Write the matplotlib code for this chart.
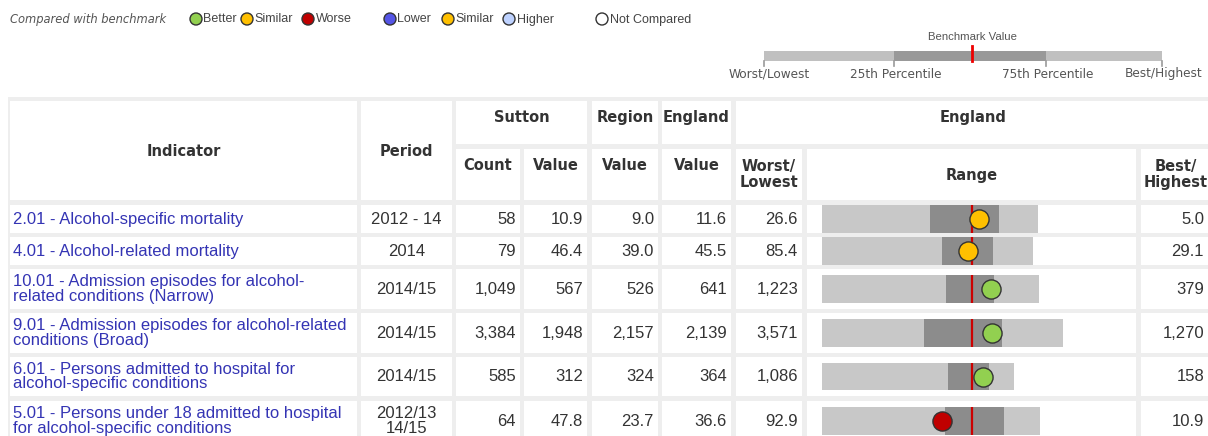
import matplotlib.pyplot as plt
from matplotlib.patches import Rectangle, Circle

# ---- data ----
indicators = [
    "2.01 - Alcohol-specific mortality",
    "4.01 - Alcohol-related mortality",
    "10.01 - Admission episodes for alcohol-\nrelated conditions (Narrow)",
    "9.01 - Admission episodes for alcohol-related\nconditions (Broad)",
    "6.01 - Persons admitted to hospital for\nalcohol-specific conditions",
    "5.01 - Persons under 18 admitted to hospital\nfor alcohol-specific conditions",
]
periods = ["2012 - 14", "2014", "2014/15", "2014/15", "2014/15", "2012/13\n14/15"]
counts = [58, 79, 1049, 3384, 585, 64]
sutton = [10.9, 46.4, 567, 1948, 312, 47.8]
region = [9.0, 39.0, 526, 2157, 324, 23.7]
england = [11.6, 45.5, 641, 2139, 364, 36.6]
worst = [26.6, 85.4, 1223, 3571, 1086, 92.9]
p25 = [15.8, 53.5, 739, 2590, 480, 46.5]
p75 = [8.9, 39.8, 553, 1853, 283, 24.5]
best = [5.0, 29.1, 379, 1270, 158, 10.9]
decimals = [1, 1, 0, 0, 0, 1]
compare = ["similar", "similar", "better", "better", "better", "worse"]

colors = {"better": "#92d050", "similar": "#ffc000", "worse": "#c00000",
          "lower": "#5555e6", "higher": "#bed2ff", "none": "#ffffff"}
legend_items = [("better", "Better"), ("similar", "Similar"), ("worse", "Worse"),
                ("lower", "Lower"), ("similar", "Similar"), ("higher", "Higher"),
                ("none", "Not Compared")]
legend_x = [196, 247, 308, 390, 448, 509, 602]

W, H = 1208, 436
fig = plt.figure(figsize=(W / 100, H / 100), dpi=100)
ax = fig.add_axes([0, 0, 1, 1])
ax.set_xlim(0, W)
ax.set_ylim(H, 0)
ax.axis("off")

DATA_FONT = "Liberation Sans"
HEAD_FONT = "DejaVu Sans"
txt_col = "#333333"
link_col = "#3434b4"
BODY_SIZE = 12


def fmt(v, d):
    return f"{v:,.{d}f}"


# ---- legend ----
ax.text(10, 19, "Compared with benchmark", fontsize=8.3, style="italic",
        color="#555555", va="center", family=HEAD_FONT)
for (key, label), x in zip(legend_items, legend_x):
    ax.add_patch(Circle((x, 19), 6, facecolor=colors[key], edgecolor="#333333", lw=1))
    ax.text(x + 7.5, 19.5, label, fontsize=9, color="#444444", va="center", family=DATA_FONT)

# ---- key for the spine ----
kx = [764, 894, 1046, 1162]
ax.add_patch(Rectangle((kx[0], 51), kx[3] - kx[0], 10.5, color="#c0c0c0", lw=0))
ax.add_patch(Rectangle((kx[1], 51), kx[2] - kx[1], 10.5, color="#999999", lw=0))
ax.plot([972, 972], [46, 61.5], color="#ee0000", lw=2)
for x in kx:
    ax.plot([x, x], [61, 66], color="#999999", lw=1.2)
ax.text(973, 37, "Benchmark Value", fontsize=8.2, color="#555555", ha="center",
        va="center", family=DATA_FONT)
for x, lab in zip([769, 896, 1048, 1164],
                  ["Worst/Lowest", "25th Percentile", "75th Percentile", "Best/Highest"]):
    ax.text(x, 74, lab, fontsize=8.7, color="#555555", ha="center", va="center",
            family=HEAD_FONT)

# ---- table frame ----
ax.add_patch(Rectangle((8, 97), W - 8, H - 97, color="#eeeeee", lw=0))
cols = [(10, 357), (361, 452), (456, 520), (524, 587), (592, 658),
        (662, 731), (736, 802), (807, 1136), (1141, 1210)]


def cell(c0, c1, y0, y1):
    x0, x1 = cols[c0][0], cols[c1][1]
    ax.add_patch(Rectangle((x0, y0), x1 - x0, y1 - y0, color="white", lw=0))
    return (x0 + x1) / 2


def bold(x, y, s):
    ax.text(x, y, s, fontsize=10.5, fontweight="bold", color=txt_col, ha="center",
            va="center", family=HEAD_FONT, linespacing=1.12)


# header
bold(cell(0, 0, 101, 200), 151, "Indicator")
bold(cell(1, 1, 101, 200), 151, "Period")
bold(cell(2, 3, 101, 144), 117, "Sutton")
bold(cell(4, 4, 101, 144), 117, "Region")
bold(cell(5, 5, 101, 144), 117, "England")
bold(cell(6, 8, 101, 144), 117, "England")
bold(cell(2, 2, 149, 200), 165, "Count")
bold(cell(3, 3, 149, 200), 165, "Value")
bold(cell(4, 4, 149, 200), 165, "Value")
bold(cell(5, 5, 149, 200), 165, "Value")
bold(cell(6, 6, 149, 200), 174.5, "Worst/\nLowest")
bold(cell(7, 7, 149, 200), 175, "Range")
bold(cell(8, 8, 149, 200), 174.5, "Best/\nHighest")

# body rows
tops = [205, 237, 269, 313, 357, 401]
bots = [233, 265, 309, 353, 396, 441]
spine_l, spine_r = 821.7, 1121.7
bar_h = 27.5

for i in range(len(indicators)):
    y0, y1 = tops[i], bots[i]
    yc = (y0 + y1) / 2
    for c in range(len(cols)):
        cell(c, c, y0, y1)
    ax.text(13, yc, indicators[i], fontsize=BODY_SIZE, color=link_col, va="center",
            family=DATA_FONT, linespacing=0.95)
    ax.text((cols[1][0] + cols[1][1]) / 2, yc, periods[i], fontsize=BODY_SIZE,
            color=txt_col, ha="center", va="center", family=DATA_FONT, linespacing=0.95)
    d = decimals[i]
    vals = [fmt(counts[i], 0), fmt(sutton[i], d), fmt(region[i], d),
            fmt(england[i], d), fmt(worst[i], d)]
    for c, s in zip([2, 3, 4, 5, 6], vals):
        ax.text(cols[c][1] - 4, yc, s, fontsize=BODY_SIZE, color=txt_col, ha="right",
                va="center", family=DATA_FONT)
    ax.text(1204, yc, fmt(best[i], d), fontsize=BODY_SIZE, color=txt_col, ha="right",
            va="center", family=DATA_FONT)

    # spine chart: benchmark in the middle, worst on the left
    half = max(worst[i] - england[i], england[i] - best[i])
    sax = fig.add_axes([spine_l / W, 1 - (yc + bar_h / 2) / H,
                        (spine_r - spine_l) / W, bar_h / H])
    sax.set_xlim(england[i] + half, england[i] - half)
    sax.set_ylim(-0.5, 0.5)
    sax.axis("off")
    sax.barh(0, best[i] - worst[i], left=worst[i], height=1, color="#c8c8c8", lw=0)
    sax.barh(0, p75[i] - p25[i], left=p25[i], height=1, color="#8c8c8c", lw=0)
    sax.axvline(england[i], color="#cc0000", lw=1.6)
    sax.scatter([sutton[i]], [0], s=190, color=colors[compare[i]], edgecolors="#333333",
                linewidths=1, zorder=5, clip_on=False)

fig.savefig("out.png", dpi=100)
